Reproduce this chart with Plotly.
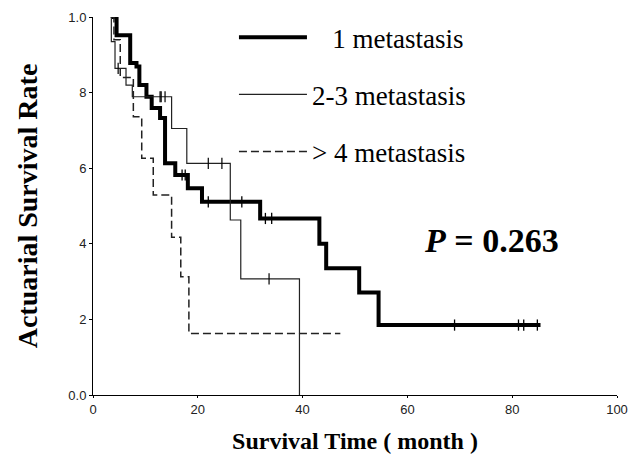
import plotly.graph_objects as go

# ---- data (months, survival rate 0-1) ----
one_t = [3.6, 4.5, 7.1, 8.3, 8.85, 10.2, 11.2, 12.8, 13.75, 15.7, 18.1, 20.8, 31.9, 43.2, 44.5, 50.8, 54.5, 85.4]
one_s = [1.0, 0.952, 0.878, 0.869, 0.82, 0.789, 0.759, 0.733, 0.613, 0.582, 0.547, 0.511, 0.467, 0.40, 0.335, 0.271, 0.185, 0.185]
one_cens_t = [13.0, 17.0, 17.6, 22.0, 28.4, 32.9, 34.1, 69.0, 81.2, 82.2, 84.8]
one_cens_s = [0.789, 0.582, 0.582, 0.511, 0.511, 0.467, 0.467, 0.185, 0.185, 0.185, 0.185]

two_t = [3.3, 3.5, 4.2, 6.3, 7.5, 15.0, 17.9, 26.2, 28.2, 39.4]
two_s = [1.0, 0.935, 0.864, 0.82, 0.789, 0.705, 0.613, 0.463, 0.307, 0.0]
two_cens_t = [4.8, 12.8, 13.75, 22.0, 24.6, 33.6]
two_cens_s = [0.864, 0.789, 0.789, 0.613, 0.613, 0.307]

four_t = [3.5, 4.0, 5.2, 7.7, 9.3, 11.5, 15.0, 16.75, 18.3, 47.2]
four_s = [1.0, 0.94, 0.84, 0.736, 0.626, 0.529, 0.417, 0.313, 0.163, 0.163]

x_ticks = [0, 20, 40, 60, 80, 100]
y_ticks = [0, 0.2, 0.4, 0.6, 0.8, 1.0]
y_ticktext = ["0.0", "2", "4", "6", "8", "1.0"]

serif = "Liberation Serif, Times New Roman, serif"
sans = "Liberation Sans, Arial, sans-serif"

fig = go.Figure()
fig.add_trace(go.Scatter(x=one_t, y=one_s, mode="lines", line_shape="hv",
                         line=dict(color="black", width=4), name="\u00a0\u00a0\u00a01 metastasis",
                         legendgroup="a", cliponaxis=False))
fig.add_trace(go.Scatter(x=two_t, y=two_s, mode="lines", line_shape="hv",
                         line=dict(color="#222", width=1.2), name="2-3 metastasis",
                         legendgroup="b", cliponaxis=False))
fig.add_trace(go.Scatter(x=four_t, y=four_s, mode="lines", line_shape="hv",
                         line=dict(color="#222", width=1.5, dash="8px,4px"), name="> 4 metastasis",
                         legendgroup="c", cliponaxis=False))
fig.add_trace(go.Scatter(x=one_cens_t, y=one_cens_s, mode="markers", showlegend=False,
                         marker=dict(symbol="line-ns", size=8, line=dict(color="black", width=1.3))))
fig.add_trace(go.Scatter(x=two_cens_t, y=two_cens_s, mode="markers", showlegend=False,
                         marker=dict(symbol="line-ns", size=8, line=dict(color="black", width=1.2))))

fig.add_annotation(x=76.0, y=0.41, xref="x", yref="y", text="<b><i>P</i> = 0.263</b>",
                   showarrow=False, font=dict(family=serif, size=34, color="black"))

fig.update_layout(
    width=640, height=462,
    margin=dict(l=85, r=31, t=9, b=75, autoexpand=False),
    paper_bgcolor="white", plot_bgcolor="white",
    showlegend=True,
    legend=dict(x=0.269, y=1.01, xanchor="left", yanchor="top",
                font=dict(family=serif, size=27, color="black"),
                bgcolor="rgba(0,0,0,0)", tracegroupgap=19, itemwidth=68),
    xaxis=dict(range=[0, 100], tickvals=x_ticks, showgrid=False, zeroline=False,
               showline=True, linecolor="black", linewidth=1, automargin=False,
               ticks="outside", ticklen=2, tickcolor="black",
               tickfont=dict(family=sans, size=13, color="#222"),
               title=dict(text="<b>Survival Time ( month )</b>", standoff=16,
                          font=dict(family=serif, size=24, color="black"))),
    yaxis=dict(range=[0, 1], tickvals=y_ticks, ticktext=y_ticktext, showgrid=False, zeroline=False,
               showline=True, linecolor="black", linewidth=1, automargin=False,
               ticks="outside", ticklen=3, tickcolor="black",
               tickfont=dict(family=sans, size=13, color="#222"),
               title=dict(text="<b>Actuarial Survival Rate</b>", standoff=22,
                          font=dict(family=serif, size=28, color="black"))),
)

fig.write_html("out.html")
